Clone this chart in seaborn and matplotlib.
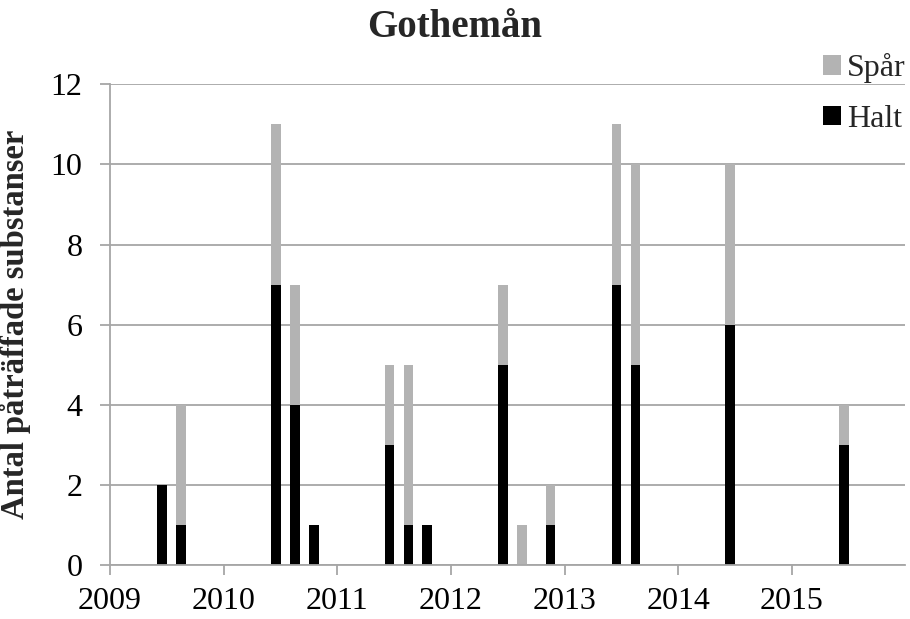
import pandas as pd
import matplotlib.pyplot as plt
import seaborn as sns

# Sampling dates (year, month) and number of detected substances
years = [2009, 2009, 2010, 2010, 2010, 2011, 2011, 2011, 2012, 2012, 2012, 2013, 2013, 2014, 2015]
months = [6, 8, 6, 8, 10, 6, 8, 10, 6, 8, 11, 6, 8, 6, 6]
halt = [2, 1, 7, 4, 1, 3, 1, 1, 5, 0, 1, 7, 5, 6, 3]
spar = [0, 3, 4, 3, 0, 2, 4, 0, 2, 1, 1, 4, 5, 4, 1]
year_ticks = [2009, 2010, 2011, 2012, 2013, 2014, 2015]

df = pd.DataFrame({'year': years, 'month': months, 'Halt': halt, 'Spår': spar})
df['t'] = df['year'] + (df['month'] - 0.5) / 12
df['total'] = df['Halt'] + df['Spår']

sns.set_style('white')
plt.rcParams['font.family'] = ['Liberation Serif', 'DejaVu Serif']

fig = plt.figure(figsize=(9.1, 6.19), dpi=100)
ax = fig.add_axes([0.121, 0.087, 0.874, 0.777])

grey = '#b3b3b3'
sns.barplot(data=df, x='t', y='total', native_scale=True, width=0.51,
            color=grey, saturation=1, linewidth=0, ax=ax, label='Spår')
sns.barplot(data=df, x='t', y='Halt', native_scale=True, width=0.51,
            color='black', saturation=1, linewidth=0, ax=ax, label='Halt')

ax.set_xlim(2009, 2016)
ax.set_ylim(0, 12)
ax.set_yticks(range(0, 13, 2))
ax.set_xticks(year_ticks)
ax.set_xticklabels([str(y) for y in year_ticks])
ax.yaxis.grid(True, color='#a6a6a6', linewidth=1.3)
ax.set_axisbelow(True)
for side in ['top', 'right']:
    ax.spines[side].set_visible(False)
for side in ['left', 'bottom']:
    ax.spines[side].set_color('#a6a6a6')
    ax.spines[side].set_linewidth(1.3)
ax.tick_params(axis='both', labelsize=23, colors='#a6a6a6', labelcolor='black',
               length=7, width=1.3, direction='out', left=True, bottom=True)
ax.tick_params(axis='y', pad=13)
ax.tick_params(axis='x', pad=9)
ax.set_xlabel('')
ax.set_ylabel('Antal påträffade substanser', fontsize=23.5, fontweight='bold')
ax.yaxis.set_label_coords(-0.1, 0.5)

fig.text(0.5, 0.955, 'Gothemån', ha='center', va='center', fontsize=28, fontweight='bold')

handles, labels = ax.get_legend_handles_labels()
ax.legend(handles, labels, loc='upper right', bbox_to_anchor=(0.995, 0.914),
          bbox_transform=fig.transFigure, frameon=False, fontsize=23,
          handlelength=0.55, handleheight=0.55, handletextpad=0.19,
          labelspacing=0.68, borderaxespad=0, borderpad=0)

plt.savefig('out.png', dpi=100)
